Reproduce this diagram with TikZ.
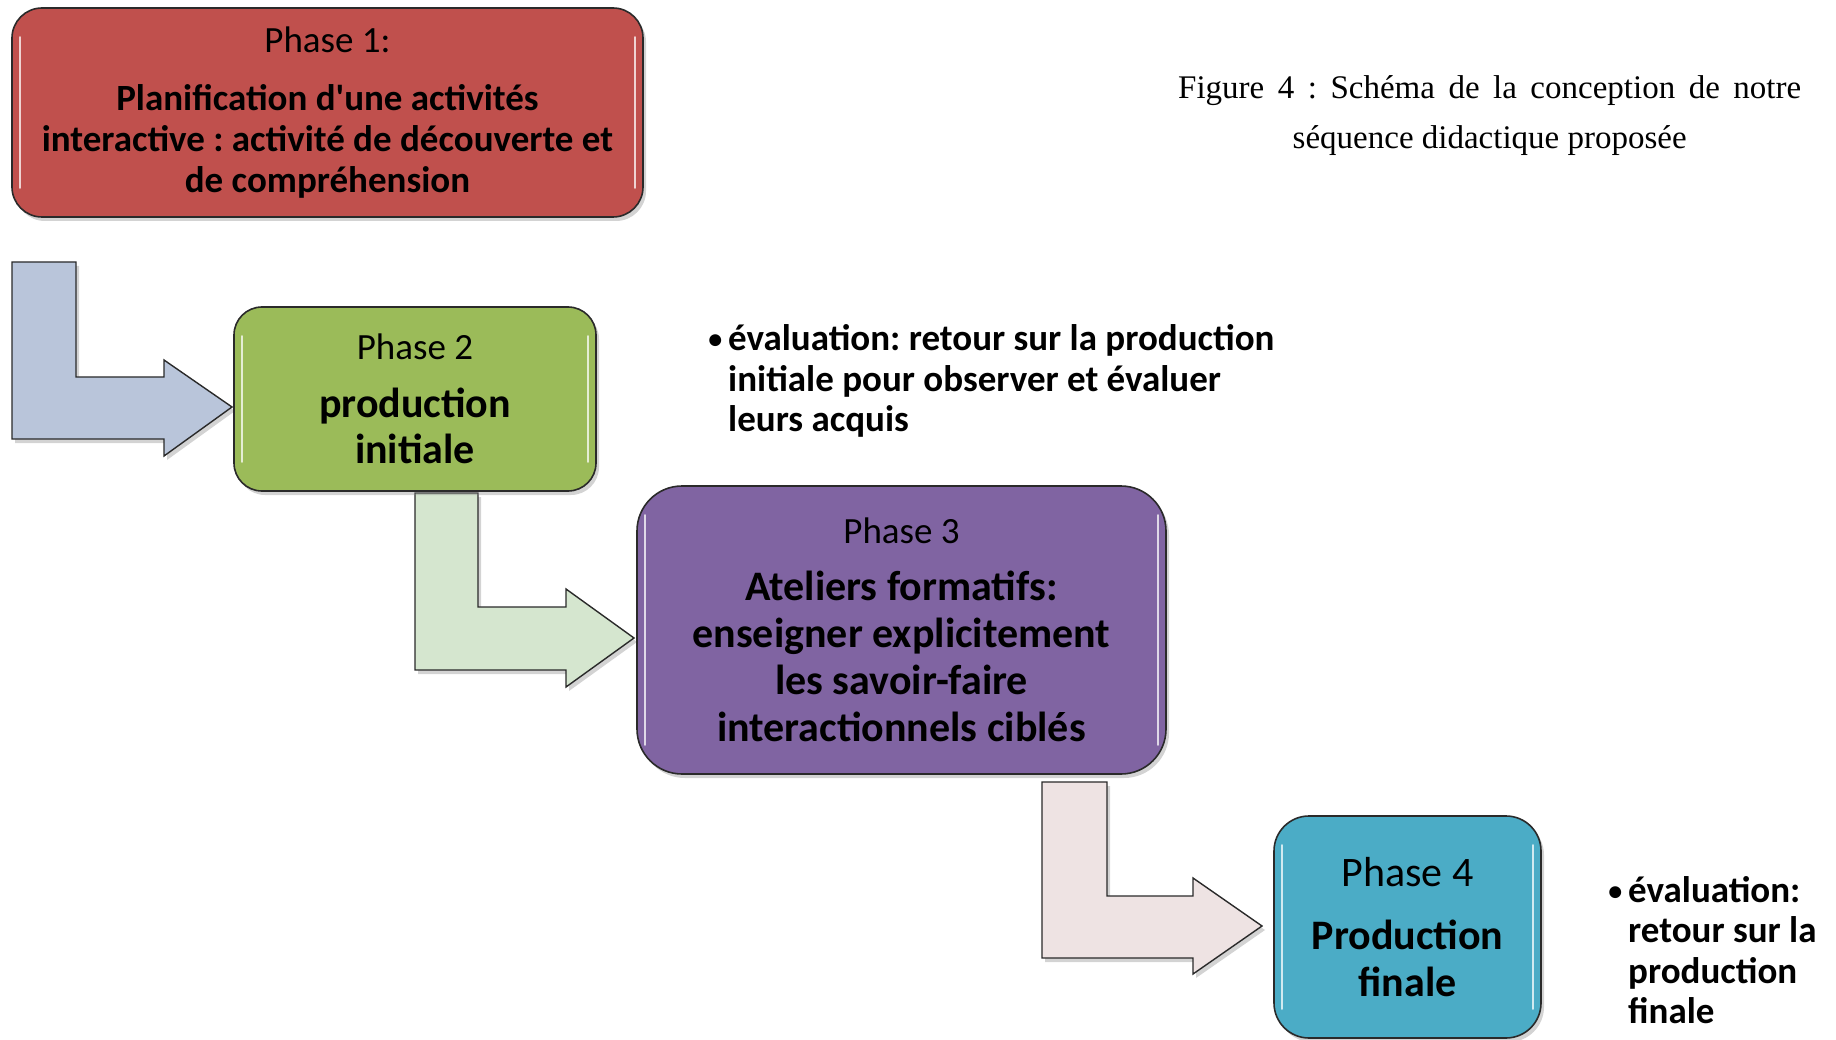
\documentclass[tikz,border=0pt]{standalone}
\usepackage{fontspec}
\setmainfont{Carlito}[Ligatures=TeXOff]
\newfontfamily\capfont{Liberation Serif}
\usetikzlibrary{shadows}
\definecolor{pred}{HTML}{C0504D}
\definecolor{pgreen}{HTML}{9BBB59}
\definecolor{ppurple}{HTML}{8064A2}
\definecolor{pteal}{HTML}{4BACC6}
\definecolor{arblue}{HTML}{B9C5DA}
\definecolor{argreen}{HTML}{D5E6CF}
\definecolor{arpink}{HTML}{EEE3E3}
\definecolor{edgegray}{HTML}{2A2A2A}
\newcommand{\mybullet}{\makebox[0pt][r]{\raisebox{2pt}{\fontsize{28}{28}\selectfont •}\hspace{6pt}}}
\begin{document}
\frenchspacing
\begin{tikzpicture}[x=1pt,y=-1pt,
  phasebox/.style={draw=edgegray, line width=1.6pt, rounded corners=#1, align=center, inner sep=0pt,
    drop shadow={shadow xshift=3pt, shadow yshift=-4pt, opacity=0.35}},
  gloss/.style={white, opacity=0.75, line width=2.5pt, line cap=round},
  blockarrow/.style={draw=edgegray, line width=1.4pt, line join=miter,
    drop shadow={shadow xshift=3pt, shadow yshift=-4pt, opacity=0.35}},
  bullettext/.style={anchor=base west, inner sep=0pt}
]
\useasboundingbox (0,0) rectangle (1836,1040);

% arrows
\filldraw[blockarrow, fill=arblue] (12,262) -- (76,262) -- (76,377) -- (164,377) -- (164,360) -- (232,407) -- (164,456) -- (164,439) -- (12,439) -- cycle;
\filldraw[blockarrow, fill=argreen] (415,493) -- (478,493) -- (478,607) -- (566,607) -- (566,589) -- (634,638) -- (566,687) -- (566,670) -- (415,670) -- cycle;
\filldraw[blockarrow, fill=arpink] (1042,782) -- (1107,782) -- (1107,896) -- (1193,896) -- (1193,878) -- (1262,926) -- (1193,974) -- (1193,958) -- (1042,958) -- cycle;

% phase boxes
\node[phasebox=30pt, fill=pred, minimum width=631pt, minimum height=209pt,
  font=\fontsize{37}{41}\selectfont] (p1) at (327.5,112.5)
  {Phase 1:\\[17pt]\textbf{Planification d'une activités}\\\textbf{interactive : activité de découverte et}\\\textbf{de compréhension}};
\node[phasebox=28pt, fill=pgreen, minimum width=362pt, minimum height=184pt,
  font=\fontsize{42}{46}\selectfont] (p2) at (415,399)
  {{\fontsize{37}{46}\selectfont Phase 2}\\[12pt]\textbf{production}\\\textbf{initiale}};
\node[phasebox=45pt, fill=ppurple, minimum width=529pt, minimum height=288pt,
  font=\fontsize{42}{47}\selectfont] (p3) at (901.5,630)
  {{\fontsize{37}{47}\selectfont Phase 3}\\[10pt]\textbf{Ateliers formatifs:}\\\textbf{enseigner explicitement}\\\textbf{les savoir-faire}\\\textbf{interactionnels ciblés}};
\node[phasebox=35pt, fill=pteal, minimum width=267pt, minimum height=222pt,
  font=\fontsize{42}{47}\selectfont] (p4) at (1407.5,927)
  {Phase 4\\[16pt]\textbf{Production}\\\textbf{finale}};

% gloss highlights
\foreach \n in {p1,p2,p3,p4}{
  \draw[gloss] ([xshift=9pt,yshift=-30pt]\n.north west) -- ([xshift=9pt,yshift=30pt]\n.south west);
  \draw[gloss] ([xshift=-9pt,yshift=-30pt]\n.north east) -- ([xshift=-9pt,yshift=30pt]\n.south east);
}

% bullet texts
\node[bullettext] (b1) at (728,351)
  {\parbox[t]{560pt}{\fontsize{37}{40.5}\selectfont\bfseries\raggedright
  \mybullet évaluation: retour sur la production\\initiale pour observer et évaluer\\leurs acquis}};
\node[bullettext] (b2) at (1628,902)
  {\parbox[t]{210pt}{\fontsize{37}{40.5}\selectfont\bfseries\raggedright
  \mybullet évaluation:\\retour sur la\\production\\finale}};

% caption
\node[bullettext] (cap) at (1178,99)
  {\parbox[t]{623pt}{\capfont\fontsize{33}{50}\selectfont
  \makebox[\linewidth][s]{Figure 4 : Schéma de la conception de notre}\par
  \centering séquence didactique proposée\par}};
\end{tikzpicture}
\end{document}
